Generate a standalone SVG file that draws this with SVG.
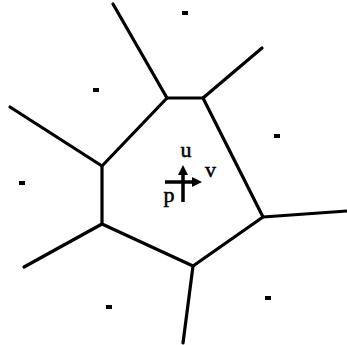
<svg xmlns="http://www.w3.org/2000/svg" width="347" height="345" viewBox="0 0 347 345">
<style>
.e{stroke:#000;stroke-width:3.2;fill:none;stroke-linecap:round;stroke-linejoin:round}
.d{fill:#000}
.t{font-family:"Liberation Serif","DejaVu Serif",serif;font-size:22px;fill:#000;stroke:#000;stroke-width:0.5}
.a{stroke:#000;stroke-width:3.5;fill:none}
</style>
<defs>
<marker id="ah" viewBox="0 0 10 10" refX="3" refY="5" markerWidth="10" markerHeight="11" orient="auto" markerUnits="userSpaceOnUse">
<path d="M0,0 L10,5 L0,10 z" fill="#000"/>
</marker>
</defs>
<rect width="347" height="345" fill="#fff"/>
<g id="connectors">
<polygon class="e" points="167,98 203,98 263,217 193,266 102,224 102,166"/>
<line class="e" x1="167" y1="98" x2="113" y2="4"/>
<line class="e" x1="203" y1="98" x2="262" y2="48"/>
<line class="e" x1="102" y1="166" x2="10" y2="107"/>
<line class="e" x1="102" y1="224" x2="24" y2="267"/>
<line class="e" x1="193" y1="266" x2="183" y2="343"/>
<line class="e" x1="263" y1="217" x2="347" y2="211"/>
</g>
<g id="sites">
<rect class="d" x="182" y="11" width="6" height="4"/>
<rect class="d" x="93" y="88" width="6" height="4"/>
<rect class="d" x="274" y="134" width="6" height="4"/>
<rect class="d" x="19" y="181" width="6" height="4"/>
<rect class="d" x="106" y="305" width="6" height="4"/>
<rect class="d" x="265" y="296" width="6" height="4"/>
</g>
<g id="frame">
<line class="a" x1="165" y1="182" x2="195" y2="182" marker-end="url(#ah)"/>
<line class="a" x1="183" y1="202" x2="183" y2="172" marker-end="url(#ah)"/>
<text class="t" x="186" y="157" text-anchor="middle">u</text>
<text class="t" x="205" y="177">v</text>
<text class="t" x="169" y="202" text-anchor="middle">p</text>
</g>
</svg>
